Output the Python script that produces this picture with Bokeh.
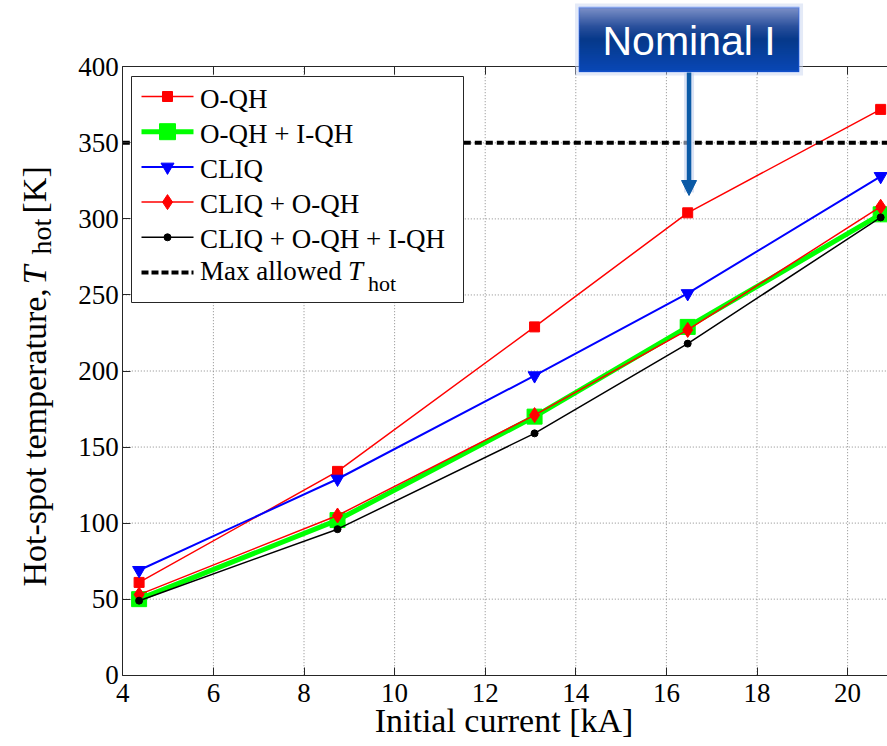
import math
from bokeh.plotting import figure
from bokeh.models import (Range1d, FixedTicker, LinearAxis, Label, BoxAnnotation,
                          Arrow, NormalHead)
from bokeh.embed import file_html
from bokeh.resources import INLINE

# ---------------- data ----------------
current_kA = [4.36, 8.74, 13.09, 16.47, 20.73]
t_oqh = [61, 134, 229, 304, 372]
t_oqh_iqh = [50, 102, 170, 229, 303]
t_cliq = [69, 129, 197, 251, 328]
t_cliq_oqh = [53, 105, 171, 227, 308]
t_cliq_oqh_iqh = [49, 96, 159, 218, 301]
series_names = ["O-QH", "O-QH + I-QH", "CLIQ", "CLIQ + O-QH", "CLIQ + O-QH + I-QH"]
t_max_allowed = 350
nominal_current = 16.5
x_ticks = [4, 6, 8, 10, 12, 14, 16, 18, 20]
y_ticks = [0, 50, 100, 150, 200, 250, 300, 350, 400]

# ---------------- layout (canvas pixels) ----------------
W, H = 887, 746
AX_L, AX_B, AX_T = 122.3, 674.7, 66.3     # pixel positions of x=4, y=0, y=400
PPX = 45.3                                 # pixels per kA
X_MIN, Y_MIN, Y_MAX = x_ticks[0], y_ticks[0], y_ticks[-1]
PPY = (AX_B - AX_T) / (Y_MAX - Y_MIN)


def dx(px):
    return X_MIN + (px - AX_L) / PPX


def dy(py):
    return Y_MIN + (AX_B - py) / PPY


XR0, XR1 = dx(0), dx(W)
YR0, YR1 = dy(H), dy(0)

SERIF = "Liberation Serif"
AX = "#262626"

p = figure(width=W, height=H, x_range=Range1d(XR0, XR1), y_range=Range1d(YR0, YR1),
           output_backend="svg", toolbar_location=None, tools="",
           x_axis_location=None, y_axis_location=None,
           min_border=0, min_border_left=0, min_border_right=0,
           min_border_top=0, min_border_bottom=0)
p.outline_line_color = None
p.background_fill_color = "white"
p.border_fill_color = "white"
p.xgrid.visible = False
p.ygrid.visible = False


def style_axis(ax, labels=True):
    ax.axis_line_color = AX
    ax.axis_line_width = 1
    ax.major_tick_line_color = AX
    ax.major_tick_in = 8
    ax.major_tick_out = 0
    ax.minor_tick_line_color = None
    ax.major_label_text_font = SERIF
    ax.major_label_text_font_size = "27px" if labels else "0px"
    ax.major_label_text_color = "black"


x_axis = LinearAxis(fixed_location=Y_MIN, bounds=(X_MIN, XR1),
                    ticker=FixedTicker(ticks=x_ticks), major_label_standoff=9)
style_axis(x_axis)
p.add_layout(x_axis, "below")

y_axis = LinearAxis(fixed_location=X_MIN, bounds=(Y_MIN, Y_MAX),
                    ticker=FixedTicker(ticks=y_ticks), major_label_standoff=4)
style_axis(y_axis)
p.add_layout(y_axis, "left")

top_axis = LinearAxis(fixed_location=Y_MAX, bounds=(X_MIN, XR1),
                      ticker=FixedTicker(ticks=x_ticks), major_label_standoff=0,
                      major_label_overrides={t: "" for t in x_ticks})
style_axis(top_axis, labels=False)
p.add_layout(top_axis, "above")

# dotted grid (from the tick lists)
GRID = dict(line_color="#8a8a8a", line_width=1, line_dash="1 2")
p.segment(x0=x_ticks[1:], y0=[Y_MIN] * (len(x_ticks) - 1),
          x1=x_ticks[1:], y1=[Y_MAX] * (len(x_ticks) - 1), **GRID)
p.segment(x0=[X_MIN] * (len(y_ticks) - 2), y0=y_ticks[1:-1],
          x1=[XR1] * (len(y_ticks) - 2), y1=y_ticks[1:-1], **GRID)

# series
series = [t_oqh, t_oqh_iqh, t_cliq, t_cliq_oqh, t_cliq_oqh_iqh]
styles = [
    dict(color="#ff0000", lw=1.5, marker="square", size=10, lsize=10),
    dict(color="#00ff00", lw=5, marker="square", size=15, lsize=16),
    dict(color="#0000ff", lw=2, marker="inverted_triangle", size=13, lsize=13),
    dict(color="#ff0000", lw=1.5, marker="diamond", size=15, lsize=15),
    dict(color="#000000", lw=1.5, marker="circle", size=7, lsize=7),
]
for ys, st in zip(series, styles):
    p.line(current_kA, ys, line_color=st["color"], line_width=st["lw"])
    p.scatter(current_kA, ys, marker=st["marker"], size=st["size"],
              fill_color=st["color"], line_color=st["color"])

# max allowed line
p.line([X_MIN, XR1], [t_max_allowed, t_max_allowed], line_color="black",
       line_width=4, line_dash="7 4")


def text(px, py, s, size, font=SERIF, style="normal", color="black",
         align="left", angle=0.0):
    p.add_layout(Label(x=dx(px), y=dy(py), text=s, text_font=font,
                       text_font_size=size, text_font_style=style,
                       text_color=color, text_align=align,
                       text_baseline="middle", angle=angle))


# ---------------- legend (manual) ----------------
LG_L, LG_R, LG_T, LG_B = 131, 463, 76, 302
p.quad(left=dx(LG_L), right=dx(LG_R), top=dy(LG_T), bottom=dy(LG_B),
       fill_color="white", line_color=AX, line_width=1)
ROW0, ROW_STEP = 96, 35.2
S_L, S_R, S_C, TXT_X = 141, 193, 167, 199.5
for i, (name, st) in enumerate(zip(series_names, styles)):
    ry = ROW0 + i * ROW_STEP
    p.line([dx(S_L), dx(S_R)], [dy(ry), dy(ry)], line_color=st["color"],
           line_width=st["lw"])
    p.scatter([dx(S_C)], [dy(ry)], marker=st["marker"], size=st["lsize"],
              fill_color=st["color"], line_color=st["color"])
    text(TXT_X, ry + 2, name, "27px")
ry = ROW0 + 5 * ROW_STEP
p.line([dx(S_L), dx(S_R)], [dy(ry), dy(ry)], line_color="black", line_width=4,
       line_dash="7 3")
text(TXT_X, ry - 2, "Max allowed", "27px")
text(347.5, ry - 2, "T", "27px", style="italic")
text(367.5, ry + 11, "hot", "22px")

# ---------------- axis titles ----------------
text(503.5, 720, "Initial current [kA]", "34px", align="center")
for s, py, px, fs, style in [("Hot-spot temperature,", 586, 33.5, "34px", "normal"),
                             ("T", 284, 33.5, "34px", "italic"),
                             ("hot", 254, 40.5, "28px", "normal"),
                             ("[K]", 213, 33.5, "34px", "normal")]:
    text(px, py, s, fs, style=style, angle=math.pi / 2)

# ---------------- "Nominal I" callout ----------------
ax_px = AX_L + (nominal_current - X_MIN) * PPX
BOX_T, BOX_B, HALF_W = 7, 71, 110
p.add_layout(BoxAnnotation(left=dx(ax_px - HALF_W - 4), right=dx(ax_px + HALF_W + 4),
                           top=dy(BOX_T - 4), bottom=dy(BOX_B + 4),
                           fill_color="#c9d6f0", fill_alpha=0.5, line_color=None))
stops = [(0.0, (0x7d, 0x91, 0xc8)), (0.3, (0x2a, 0x50, 0x9c)),
         (0.5, (0x06, 0x39, 0x8a)), (1.0, (0x0a, 0x48, 0xb6))]


def grad(t):
    for (t0, c0), (t1, c1) in zip(stops[:-1], stops[1:]):
        if t0 <= t <= t1:
            f = (t - t0) / (t1 - t0)
            return "#%02x%02x%02x" % tuple(int(a + (b - a) * f) for a, b in zip(c0, c1))
    return "#%02x%02x%02x" % stops[-1][1]


N = 32
h = (BOX_B - BOX_T) / N
for k in range(N):
    y_top = BOX_T + k * h
    p.add_layout(BoxAnnotation(left=dx(ax_px - HALF_W), right=dx(ax_px + HALF_W),
                               top=dy(y_top), bottom=dy(y_top + h + 0.6),
                               fill_color=grad((k + 0.5) / N), fill_alpha=1,
                               line_color=None))
p.add_layout(BoxAnnotation(left=dx(ax_px - HALF_W), right=dx(ax_px + HALF_W),
                           top=dy(BOX_T), bottom=dy(BOX_B), fill_color=None,
                           fill_alpha=0, line_color="#2462ff", line_width=2))
text(ax_px, 40, "Nominal I", "41px", font="Liberation Sans", color="white",
     align="center")

# arrow with soft glow
p.add_layout(Arrow(x_start=nominal_current, y_start=dy(BOX_B + 1),
                   x_end=nominal_current, y_end=dy(192), line_color="#c3d0ee",
                   line_width=10, line_alpha=0.6, end=None))
p.add_layout(Arrow(x_start=nominal_current, y_start=dy(BOX_B + 1),
                   x_end=nominal_current, y_end=dy(195), line_color="#0b5aa6",
                   line_width=4.5,
                   end=NormalHead(size=15, fill_color="#0b5aa6",
                                  line_color="#0b5aa6", line_width=1)))

open("out.html", "w").write(file_html(p, INLINE))
